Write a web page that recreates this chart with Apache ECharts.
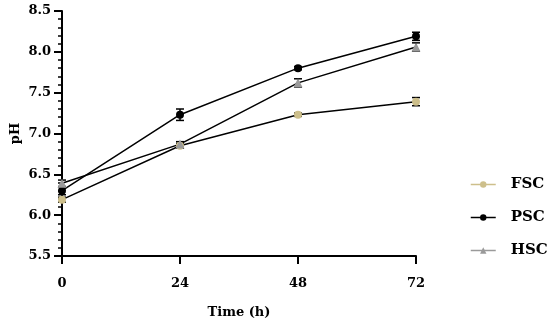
<!DOCTYPE html>
<html><head><meta charset="utf-8">
<script src="https://cdn.jsdelivr.net/npm/echarts@6/dist/echarts.min.js"></script>
<style>html,body{margin:0;padding:0;background:#fff}#c{width:550px;height:325px}</style>
</head><body><div id="c"></div>
<script>
var times = [0, 24, 48, 72];
var xTicks = [0, 24, 48, 72];
var fsc = [6.19, 6.85, 7.23, 7.39];
var fscErr = [0.03, 0.03, 0.02, 0.05];
var psc = [6.30, 7.23, 7.80, 8.19];
var pscErr = [0.05, 0.07, 0.02, 0.05];
var hsc = [6.39, 6.87, 7.62, 8.06];
var hscErr = [0.04, 0.03, 0.05, 0.05];
var names = ['FSC', 'PSC', 'HSC'];
var colors = ['#cdbf8b', '#000000', '#9a9a9a'];
var symbols = ['circle', 'circle', 'triangle'];

var F = '"DejaVu Serif", "Liberation Serif", serif';
var vals = [fsc, psc, hsc];
var errs = [fscErr, pscErr, hscErr];

function errSeries(i) {
  return {
    type: 'custom', silent: true, z: 3,
    data: times.map(function (t, k) { return [t, vals[i][k] - errs[i][k], vals[i][k] + errs[i][k]]; }),
    renderItem: function (params, api) {
      var lo = api.coord([api.value(0), api.value(1)]);
      var hi = api.coord([api.value(0), api.value(2)]);
      var w = 4;
      var st = { stroke: '#000', lineWidth: 1.5 };
      return { type: 'group', children: [
        { type: 'line', shape: { x1: lo[0], y1: lo[1], x2: hi[0], y2: hi[1] }, style: st },
        { type: 'line', shape: { x1: lo[0] - w, y1: lo[1], x2: lo[0] + w, y2: lo[1] }, style: st },
        { type: 'line', shape: { x1: hi[0] - w, y1: hi[1], x2: hi[0] + w, y2: hi[1] }, style: st }
      ]};
    }
  };
}

var series = [];
for (var i = 0; i < 3; i++) series.push(errSeries(i));
for (var j = 0; j < 3; j++) {
  series.push({
    name: names[j], type: 'line', z: 4,
    data: times.map(function (t, k) { return [t, vals[j][k]]; }),
    symbol: symbols[j], symbolSize: symbols[j] === 'triangle' ? 9 : 8,
    showSymbol: true,
    itemStyle: { color: colors[j] },
    lineStyle: { color: '#000', width: 1.5 }
  });
}

var chart = echarts.init(document.getElementById('c'), null, { renderer: 'canvas' });
chart.setOption({
  animation: false,
  backgroundColor: '#fff',
  grid: { left: 62, right: 134, top: 11, bottom: 69, containLabel: false, outerBoundsMode: 'none' },
  legend: {
    orient: 'vertical', left: 470, top: 177, itemGap: 18, padding: 0,
    itemWidth: 25, itemHeight: 8,
    textStyle: { fontFamily: F, fontWeight: 'bold', fontSize: 15, color: '#000', padding: [0, 0, 0, 10] },
    data: names.map(function (n, k) {
      return { name: n, itemStyle: { color: colors[k] }, lineStyle: { color: colors[k], width: 1.5 } };
    })
  },
  xAxis: {
    type: 'value', min: 0, max: 72, interval: 24,
    name: 'Time (h)', nameLocation: 'middle', nameGap: 50, nameMoveOverlap: false,
    nameTextStyle: { fontFamily: F, fontWeight: 'bold', fontSize: 13, color: '#000' },
    axisLine: { show: true, onZero: false, lineStyle: { color: '#000', width: 2 } },
    axisTick: { show: true, length: 8, lineStyle: { color: '#000', width: 2 } },
    axisLabel: { fontFamily: F, fontWeight: 'bold', fontSize: 13, color: '#000', margin: 21,
      formatter: function (v) { return xTicks.indexOf(v) >= 0 ? String(v) : ''; } },
    splitLine: { show: false }
  },
  yAxis: {
    type: 'value', min: 5.5, max: 8.5, interval: 0.5,
    name: 'pH', nameLocation: 'middle', nameGap: 40, nameRotate: 90, nameMoveOverlap: false,
    nameTextStyle: { fontFamily: F, fontWeight: 'bold', fontSize: 13, color: '#000' },
    axisLine: { show: true, onZero: false, lineStyle: { color: '#000', width: 2 } },
    axisTick: { show: true, length: 8, lineStyle: { color: '#000', width: 2 } },
    minorTick: { show: true, splitNumber: 5, length: 4, lineStyle: { color: '#000', width: 1.5 } },
    axisLabel: { fontFamily: F, fontWeight: 'bold', fontSize: 13, color: '#000', margin: 11,
      formatter: function (v) { return v.toFixed(1); } },
    splitLine: { show: false }
  },
  series: series
});
</script>
</body></html>
